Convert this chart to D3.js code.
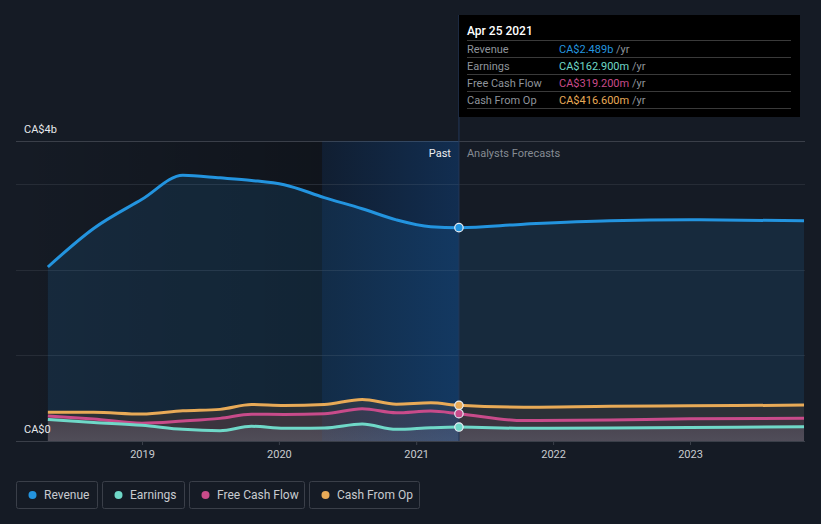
<!DOCTYPE html>
<html><head><meta charset="utf-8">
<script src="https://cdn.jsdelivr.net/npm/d3@7"></script>
<style>
html,body{margin:0;padding:0;background:#151b25;}
svg{display:block;font-family:Roboto,"Open Sans",sans-serif;}
</style></head>
<body><svg id="c" width="821" height="524"></svg>
<script>
// ---- data ----
const histDates = ["2018-04-25","2018-08-25","2019-01-01","2019-04-20","2019-07-28","2019-10-20","2020-01-15","2020-05-01","2020-08-10","2020-11-09","2021-02-09","2021-04-25"];
const foreDates = ["2021-04-25","2021-10-15","2022-06-01","2022-12-31","2023-11-01"];
// values in CA$ billions
const revenueHist  = [2.03, 2.48, 2.82, 3.10, 3.07, 3.04, 2.99, 2.84, 2.71, 2.58, 2.50, 2.489];
const revenueFore  = [2.489, 2.53, 2.57, 2.58, 2.57];
const earningsHist = [0.252, 0.217, 0.184, 0.136, 0.120, 0.172, 0.149, 0.151, 0.198, 0.136, 0.155, 0.1629];
const earningsFore = [0.1629, 0.148, 0.152, 0.157, 0.166];
const fcfHist      = [0.291, 0.256, 0.208, 0.233, 0.264, 0.312, 0.310, 0.317, 0.376, 0.329, 0.349, 0.3192];
const fcfFore      = [0.3192, 0.238, 0.245, 0.259, 0.264];
const cfoHist      = [0.334, 0.334, 0.314, 0.352, 0.369, 0.425, 0.415, 0.427, 0.485, 0.430, 0.445, 0.4166];
const cfoFore      = [0.4166, 0.395, 0.405, 0.410, 0.419];
const yearTicks = ["2019","2020","2021","2022","2023"];
const yTickLabels = ["CA$0","CA$4b"];
const seriesNames = ["Revenue","Earnings","Free Cash Flow","Cash From Op"];
const seriesColors = ["#2394df","#6fd8c8","#c84b8a","#e8aa57"];
const tipDate = "Apr 25 2021";
const tipValues = ["CA$2.489b","CA$162.900m","CA$319.200m","CA$416.600m"];
const pastLabel = "Past", foreLabel = "Analysts Forecasts";
const pastStart = "2020-04-25", nowDate = "2021-04-25";

// ---- setup ----
const svg = d3.select("#c");
const parse = d3.utcParse("%Y-%m-%d");
const x = d3.scaleUtc().domain([parse("2019-01-01"), parse("2023-01-01")]).range([142, 690]);
const y = d3.scaleLinear().domain([0, 3.5]).range([441, 141]);
const pL = 16, pR = 805, pT = 141, pB = 441;

const defs = svg.append("defs");
const g1 = defs.append("linearGradient").attr("id","darkPast").attr("x1","0").attr("x2","1").attr("y1","0").attr("y2","0");
g1.append("stop").attr("offset","0").attr("stop-color","#000").attr("stop-opacity",0);
g1.append("stop").attr("offset","1").attr("stop-color","#000").attr("stop-opacity",0.25);
const g2 = defs.append("linearGradient").attr("id","band").attr("x1","0").attr("x2","1").attr("y1","0").attr("y2","0");
g2.append("stop").attr("offset","0").attr("stop-color","#1565c0").attr("stop-opacity",0.08);
g2.append("stop").attr("offset","1").attr("stop-color","#1565c0").attr("stop-opacity",0.28);
const g3 = defs.append("linearGradient").attr("id","earnFill").attr("x1","0").attr("x2","0").attr("y1","0").attr("y2","1");
g3.append("stop").attr("offset","0").attr("stop-color","#9aa6b4").attr("stop-opacity",0.12);
g3.append("stop").attr("offset","1").attr("stop-color","#9aa6b4").attr("stop-opacity",0.22);

const xPast = x(parse(pastStart)), xNow = x(parse(nowDate));

// backgrounds
svg.append("rect").attr("x",pL).attr("y",pT).attr("width",xPast-pL).attr("height",pB-pT).attr("fill","url(#darkPast)");
svg.append("rect").attr("x",xPast).attr("y",pT).attr("width",xNow-xPast).attr("height",pB-pT).attr("fill","#0c1626").attr("opacity",0.55);

// gridlines
[1,2,3].forEach(v=>{
  svg.append("line").attr("x1",pL).attr("x2",pR).attr("y1",Math.round(y(v))+0.5).attr("y2",Math.round(y(v))+0.5).attr("stroke","#262c36").attr("stroke-width",1);
});
svg.append("line").attr("x1",pL).attr("x2",pR).attr("y1",pT+0.5).attr("y2",pT+0.5).attr("stroke","#3a3f49").attr("stroke-width",1);

function mk(dates, vals){ return dates.map((d,i)=>({d:parse(d), v:vals[i]})); }
const allDates = histDates.concat(foreDates.slice(1));
const series = [
  mk(allDates, revenueHist.concat(revenueFore.slice(1))),
  mk(allDates, earningsHist.concat(earningsFore.slice(1))),
  mk(allDates, fcfHist.concat(fcfFore.slice(1))),
  mk(allDates, cfoHist.concat(cfoFore.slice(1)))
];
const curve = d3.curveMonotoneX;
const area = d3.area().x(d=>x(d.d)).y0(y(0)).y1(d=>y(d.v)).curve(curve);
const line = d3.line().x(d=>x(d.d)).y(d=>y(d.v)).curve(curve);

// areas
svg.append("path").attr("d",area(series[0])).attr("fill","#2394df").attr("fill-opacity",0.13);
svg.append("path").attr("d",area(series[3])).attr("fill","#2f3236").attr("fill-opacity",0.92);
svg.append("path").attr("d",area(series[2])).attr("fill","#c84b8a").attr("fill-opacity",0.1);
svg.append("path").attr("d",area(series[1])).attr("fill","url(#earnFill)");

// past band overlay
svg.append("rect").attr("x",xPast).attr("y",pT).attr("width",xNow-xPast).attr("height",pB-pT).attr("fill","url(#band)");

// vertical now line
svg.append("line").attr("x1",xNow).attr("x2",xNow).attr("y1",15).attr("y2",pB).attr("stroke","#22385a").attr("stroke-width",1);

// lines
[3,2,1,0].forEach(i=>{
  svg.append("path").attr("d",line(series[i])).attr("fill","none").attr("stroke",seriesColors[i]).attr("stroke-width",3).attr("stroke-linejoin","round");
});

// axis
const xAxis = d3.axisBottom(x).tickValues(yearTicks.map(t=>parse(t+"-01-01"))).tickFormat(d3.utcFormat("%Y")).tickSize(4).tickPadding(5);
const ax = svg.append("g").attr("transform",`translate(0,${pB})`).call(xAxis);
ax.select(".domain").attr("d",`M${pL},0.5H${pR}`).attr("stroke","#3a3f49");
ax.selectAll(".tick line").attr("stroke","#3a3f49");
ax.selectAll(".tick text").attr("fill","#c8cbd0").attr("font-size",11).attr("font-family","Roboto");

// y labels
svg.append("text").attr("x",24).attr("y",133).attr("fill","#e6e8eb").attr("font-size",11).text(yTickLabels[1]);
svg.append("text").attr("x",24).attr("y",433).attr("fill","#e6e8eb").attr("font-size",11).text(yTickLabels[0]);

// past / forecast labels
svg.append("text").attr("x",xNow-8).attr("y",157).attr("text-anchor","end").attr("fill","#eceef1").attr("font-size",11).text(pastLabel);
svg.append("text").attr("x",xNow+8).attr("y",157).attr("fill","#868b93").attr("font-size",11).text(foreLabel);

// markers
const nowIdx = histDates.length-1;
[3,2,1,0].forEach(i=>{
  const p = series[i][nowIdx];
  svg.append("circle").attr("cx",x(p.d)).attr("cy",y(p.v)).attr("r",4.2).attr("fill",seriesColors[i]).attr("stroke","#e8eef5").attr("stroke-width",1.2);
});

// tooltip
const tx = 459, ty = 15;
svg.append("rect").attr("x",tx).attr("y",ty).attr("width",341).attr("height",102).attr("fill","#000");
svg.append("text").attr("x",tx+8).attr("y",ty+20).attr("fill","#fff").attr("font-size",12).attr("font-weight",500).text(tipDate);
seriesNames.forEach((n,i)=>{
  const ly = ty+25+i*17;
  svg.append("line").attr("x1",tx+8).attr("x2",tx+332).attr("y1",ly+0.5).attr("y2",ly+0.5).attr("stroke","#3a3a3a");
  svg.append("text").attr("x",tx+8).attr("y",ly+12.5).attr("fill","#8f949b").attr("font-size",11).text(n);
  const t = svg.append("text").attr("x",tx+100).attr("y",ly+12.5).attr("font-size",11);
  t.append("tspan").attr("fill",seriesColors[i]).text(tipValues[i]);
  t.append("tspan").attr("fill","#8f949b").text(" /yr");
});
svg.append("line").attr("x1",tx+8).attr("x2",tx+332).attr("y1",ty+25+4*17+0.5).attr("y2",ty+25+4*17+0.5).attr("stroke","#3a3a3a");

// legend
const legX = [16,102,189,309], legW = [81,82,115,110];
seriesNames.forEach((n,i)=>{
  const gx = svg.append("g").attr("transform",`translate(${legX[i]},481)`);
  gx.append("rect").attr("x",0.5).attr("y",0.5).attr("width",legW[i]).attr("height",27).attr("rx",2).attr("fill","none").attr("stroke","#3a3f49");
  gx.append("circle").attr("cx",16.5).attr("cy",14).attr("r",4).attr("fill",seriesColors[i]);
  gx.append("text").attr("x",28).attr("y",18).attr("fill","#c8cbd0").attr("font-size",12).text(n);
});
</script></body></html>
